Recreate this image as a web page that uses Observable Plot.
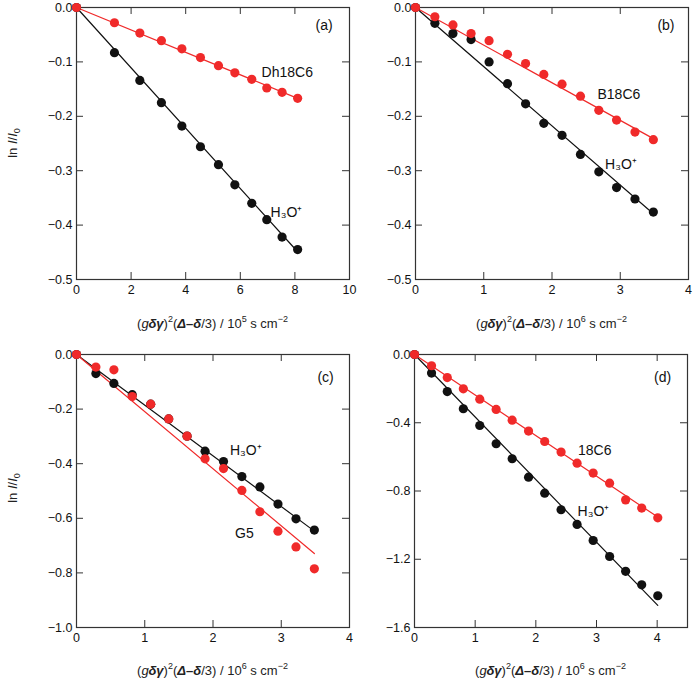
<!DOCTYPE html>
<html><head><meta charset="utf-8">
<script src="https://cdn.jsdelivr.net/npm/d3@7"></script>
<script src="https://cdn.jsdelivr.net/npm/@observablehq/plot@0.6"></script>
<style>
body{margin:0;background:#fff;}
#wrap{position:relative;width:694px;height:683px;overflow:hidden;font-family:"Liberation Sans",Arial,sans-serif;color:#222;}
.panel{position:absolute;}
.xlabel{position:absolute;font-size:13px;white-space:nowrap;transform:translate(-50%,-50%);}
.ylabel{position:absolute;font-size:13px;white-space:nowrap;transform:translate(-50%,-50%) rotate(-90deg);}
sup{font-size:9px;vertical-align:6px;line-height:0;}
sub{font-size:9px;vertical-align:-3px;line-height:0;}
</style></head>
<body><div id="wrap"></div>
<script>
// ---- Panel (a) ----
const aX        = [0, 1.39, 2.32, 3.11, 3.86, 4.54, 5.20, 5.80, 6.42, 6.97, 7.53, 8.10];
const aH3O      = [0, -0.083, -0.134, -0.175, -0.218, -0.256, -0.289, -0.326, -0.360, -0.390, -0.422, -0.445];
const aDh18C6   = [0, -0.028, -0.047, -0.061, -0.076, -0.092, -0.107, -0.120, -0.132, -0.148, -0.156, -0.167];
const aFitX     = [0, 8.10];
const aFitH3O   = [0, -0.449];
const aFitDh    = [0, -0.167];
// ---- Panel (b) ----
const bX        = [0, 0.284, 0.549, 0.814, 1.078, 1.348, 1.613, 1.88, 2.147, 2.417, 2.686, 2.946, 3.216, 3.485];
const bH3O      = [0, -0.029, -0.048, -0.059, -0.100, -0.140, -0.177, -0.213, -0.235, -0.270, -0.302, -0.331, -0.352, -0.376];
const bB18C6    = [0, -0.017, -0.032, -0.048, -0.061, -0.086, -0.103, -0.123, -0.141, -0.163, -0.189, -0.207, -0.229, -0.243];
const bFitX     = [0, 3.485];
const bFitH3O   = [0, -0.379];
const bFitB     = [0, -0.241];
// ---- Panel (c) ----
const cX        = [0, 0.284, 0.548, 0.817, 1.087, 1.351, 1.62, 1.884, 2.154, 2.423, 2.687, 2.952, 3.216, 3.485];
const cH3O      = [0, -0.070, -0.106, -0.147, -0.182, -0.236, -0.299, -0.354, -0.392, -0.447, -0.485, -0.548, -0.602, -0.643];
const cG5       = [0, -0.046, -0.056, -0.154, -0.182, -0.236, -0.299, -0.382, -0.418, -0.498, -0.576, -0.647, -0.705, -0.785];
const cFitX     = [0, 3.485];
const cFitH3O   = [0, -0.647];
const cFitG5    = [0, -0.729];
// ---- Panel (d) ----
const dX        = [0, 0.281, 0.54, 0.805, 1.076, 1.346, 1.61, 1.88, 2.146, 2.416, 2.68, 2.945, 3.216, 3.48, 3.745, 4.01];
const dH3O      = [0, -0.109, -0.217, -0.318, -0.416, -0.523, -0.611, -0.719, -0.813, -0.910, -0.996, -1.090, -1.184, -1.271, -1.350, -1.414];
const d18C6     = [0, -0.066, -0.135, -0.201, -0.262, -0.322, -0.385, -0.449, -0.510, -0.572, -0.637, -0.695, -0.754, -0.852, -0.900, -0.957];
const dFitX     = [0, 4.01];
const dFitH3O   = [0, -1.47];
const dFit18C6  = [0, -0.953];
// ---- ticks ----
const aXTicks = [0, 2, 4, 6, 8, 10];
const aYTicks = [0, -0.1, -0.2, -0.3, -0.4, -0.5];
const bXTicks = [0, 1, 2, 3, 4];
const bYTicks = [0, -0.1, -0.2, -0.3, -0.4, -0.5];
const cXTicks = [0, 1, 2, 3, 4];
const cYTicks = [0, -0.2, -0.4, -0.6, -0.8, -1.0];
const dXTicks = [0, 1, 2, 3, 4];
const dYTicks = [0, -0.4, -0.8, -1.2, -1.6];

const RED = "#f02a2a", BLACK = "#111";
const zipXY = (xs, ys) => xs.map((x, i) => ({x, y: ys[i]}));

function panel(o) {
  const pw = o.width - o.mL - o.mR, ph = o.height - o.mT - o.mB;
  const tick = 7;
  const marks = [
    Plot.ruleX(o.xTicks, {insetTop: ph - tick, stroke: "#333"}),
    Plot.ruleX(o.xTicks, {insetBottom: ph - tick, stroke: "#333"}),
    Plot.ruleY(o.yTicks, {insetRight: pw - tick, stroke: "#333"}),
    Plot.ruleY(o.yTicks, {insetLeft: pw - tick, stroke: "#333"}),
    Plot.frame({stroke: "#333", strokeWidth: 1.2}),
    Plot.axisX({ticks: o.xTicks, tickSize: 0, tickPadding: 6, tickFormat: d => String(d), label: null, fontSize: 12.5}),
    Plot.axisY({ticks: o.yTicks, tickSize: 0, tickPadding: 4, tickFormat: d3.format(".1f"), label: null, fontSize: 12.5})
  ];
  for (const s of o.series) {
    marks.push(Plot.line(zipXY(s.fitX, s.fitY), {x: "x", y: "y", stroke: s.color, strokeWidth: 1.2}));
  }
  for (const s of o.series) {
    marks.push(Plot.dot(zipXY(s.x, s.y), {x: "x", y: "y", r: 4.6, fill: s.color, stroke: "none"}));
  }
  marks.push(Plot.text(o.labels, {x: "x", y: "y", text: "t", fontSize: 14, fill: "#111", textAnchor: "middle"}));
  const svg = Plot.plot({
    width: o.width, height: o.height,
    marginLeft: o.mL, marginRight: o.mR, marginTop: o.mT, marginBottom: o.mB,
    x: {domain: o.xDomain, axis: null},
    y: {domain: o.yDomain, axis: null},
    style: {fontFamily: "'Liberation Sans', Arial, sans-serif", fontSize: "12px", background: "transparent", overflow: "visible", color: "#111"},
    marks
  });
  svg.classList.add("panel");
  svg.style.left = o.left + "px";
  svg.style.top = o.top + "px";
  document.getElementById("wrap").appendChild(svg);
}

panel({left: 0, top: 0, width: 360, height: 340, mL: 76, mR: 11, mT: 7, mB: 61,
  xDomain: [0, 10], yDomain: [-0.5, 0], xTicks: aXTicks, yTicks: aYTicks,
  series: [
    {x: aX, y: aH3O, fitX: aFitX, fitY: aFitH3O, color: BLACK},
    {x: aX, y: aDh18C6, fitX: aFitX, fitY: aFitDh, color: RED}
  ],
  labels: [{x: 9.07, y: -0.033, t: "(a)"}, {x: 7.72, y: -0.119, t: "Dh18C6"}, {x: 7.69, y: -0.376, t: "H₃O⁺"}]
});
panel({left: 347, top: 0, width: 347, height: 340, mL: 68, mR: 6, mT: 7, mB: 61,
  xDomain: [0, 4], yDomain: [-0.5, 0], xTicks: bXTicks, yTicks: bYTicks,
  series: [
    {x: bX, y: bH3O, fitX: bFitX, fitY: bFitH3O, color: BLACK},
    {x: bX, y: bB18C6, fitX: bFitX, fitY: bFitB, color: RED}
  ],
  labels: [{x: 3.67, y: -0.033, t: "(b)"}, {x: 2.98, y: -0.16, t: "B18C6"}, {x: 3.01, y: -0.2885, t: "H₃O⁺"}]
});
panel({left: 0, top: 340, width: 360, height: 343, mL: 76, mR: 11, mT: 14, mB: 56,
  xDomain: [0, 4], yDomain: [-1.0, 0], xTicks: cXTicks, yTicks: cYTicks,
  series: [
    {x: cX, y: cH3O, fitX: cFitX, fitY: cFitH3O, color: BLACK},
    {x: cX, y: cG5, fitX: cFitX, fitY: cFitG5, color: RED}
  ],
  labels: [{x: 3.65, y: -0.083, t: "(c)"}, {x: 2.48, y: -0.35, t: "H₃O⁺"}, {x: 2.46, y: -0.655, t: "G5"}]
});
panel({left: 347, top: 340, width: 347, height: 343, mL: 67, mR: 7, mT: 14, mB: 56,
  xDomain: [0, 4.5], yDomain: [-1.6, 0], xTicks: dXTicks, yTicks: dYTicks,
  series: [
    {x: dX, y: dH3O, fitX: dFitX, fitY: dFitH3O, color: BLACK},
    {x: dX, y: d18C6, fitX: dFitX, fitY: dFit18C6, color: RED}
  ],
  labels: [{x: 4.09, y: -0.133, t: "(d)"}, {x: 2.97, y: -0.56, t: "18C6"}, {x: 2.95, y: -0.923, t: "H₃O⁺"}]
});

const xlab = (exp) => `(<i>g</i><b><i>δγ</i></b>)<sup>2</sup>(<b><i>Δ</i></b><b>–</b><b><i>δ</i></b>/3) / 10<sup>${exp}</sup> s cm<sup>−2</sup>`;
const ylab = `ln <i>I</i>/<i>I</i><sub>0</sub>`;
const xLabels = [
  {cx: 212.5, cy: 323, exp: 5},
  {cx: 551.5, cy: 323, exp: 6},
  {cx: 212.5, cy: 670, exp: 6},
  {cx: 550.5, cy: 670, exp: 6}
];
const wrap = document.getElementById("wrap");
for (const l of xLabels) {
  const d = document.createElement("div");
  d.className = "xlabel";
  d.style.left = l.cx + "px"; d.style.top = l.cy + "px";
  d.innerHTML = xlab(l.exp);
  wrap.appendChild(d);
}
for (const cy of [143, 488]) {
  const d = document.createElement("div");
  d.className = "ylabel";
  d.style.left = "12px"; d.style.top = cy + "px";
  d.innerHTML = ylab;
  wrap.appendChild(d);
}
</script>
</body></html>
